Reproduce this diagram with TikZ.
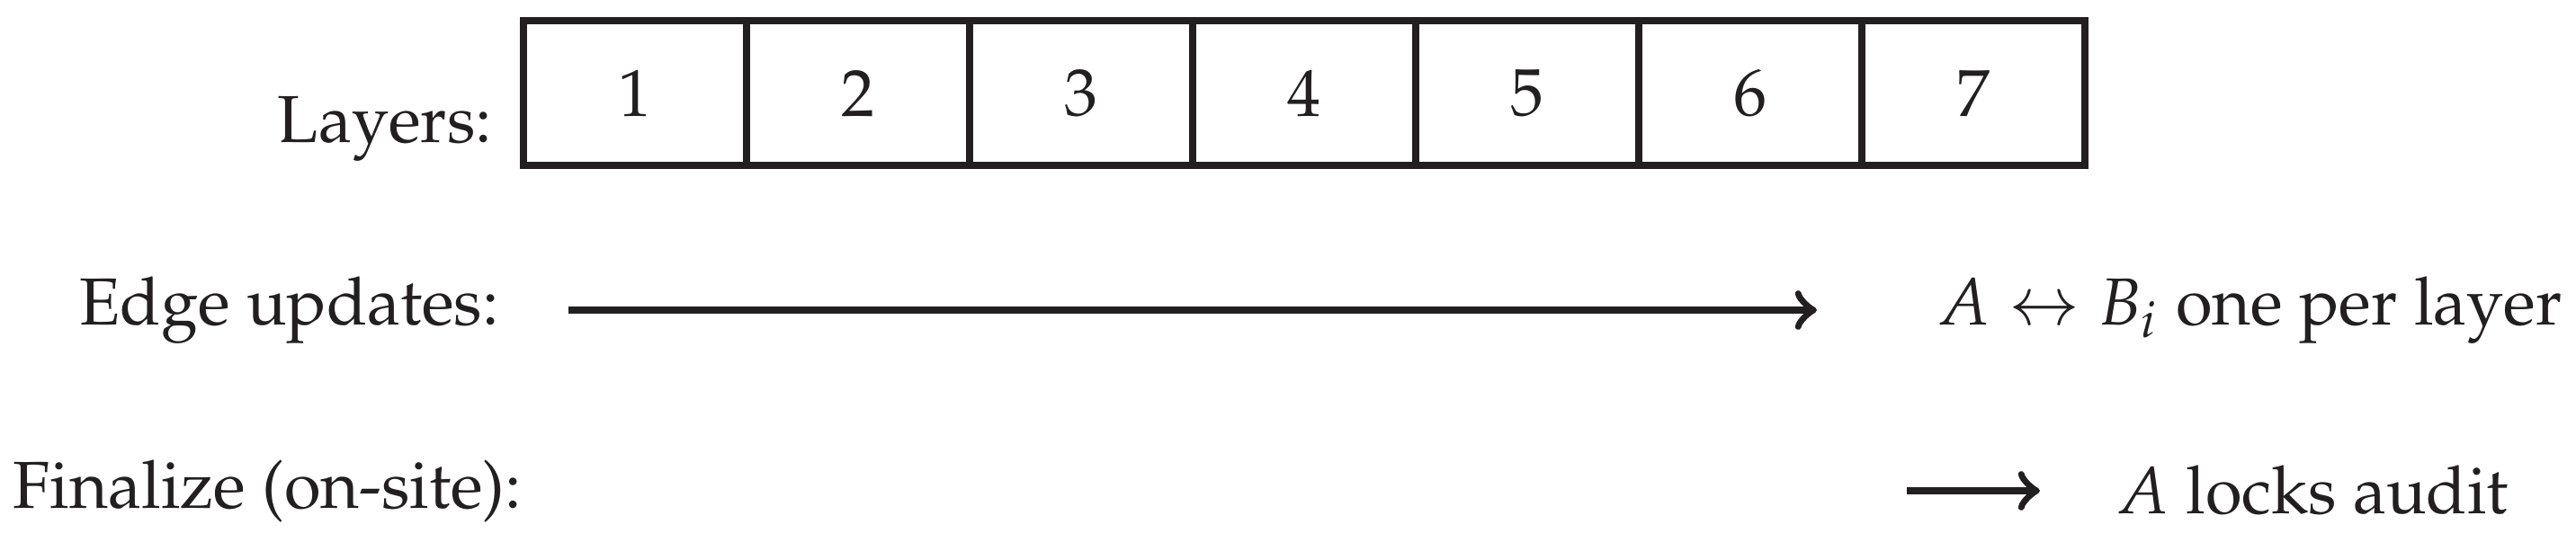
\documentclass[tikz,border=0pt]{standalone}
\usepackage[T1]{fontenc}
\usepackage{mathpazo}
\usepackage{amsmath}
\usepackage{tikz}
\usetikzlibrary{chains, positioning}
\definecolor{ink}{RGB}{35,31,32}

\begin{document}
\begin{tikzpicture}[start chain=1 going right, node distance=-1.15pt, color=ink,
		cell/.style={draw, line width=1.15pt, minimum width=1.178cm, minimum height=0.765cm, inner sep=0pt},
		flow/.style={->, line width=1.15pt}]
			\useasboundingbox (0,0) rectangle (13.604,-2.860);
			% layer boxes
			\node[cell, on chain=1] (l1) at (3.3535,-0.4916) {1};
			\node[cell, on chain=1] (l2) {2};
			\node[cell, on chain=1] (l3) {3};
			\node[cell, on chain=1] (l4) {4};
			\node[cell, on chain=1] (l5) {5};
			\node[cell, on chain=1] (l6) {6};
			\node[cell, on chain=1] (l7) {7};
			\node[anchor=east] (layers) at (2.7218,-0.6793) {Layers:};
			% edge updates
			\node[anchor=east] (edge) at (2.7598,-1.6388) {Edge updates:};
			\coordinate (e0) at (3.002,-1.6388);
			\coordinate (e1) at (9.595,-1.6388);
			\draw[flow] (e0) -- (e1);
			\node[anchor=west] (swap) at (10.108,-1.6388) {$A \leftrightarrow B_i$ one per layer};
			% finalize
			\node[anchor=east] (final) at (2.8785,-2.5935) {Finalize (on-site):};
			\coordinate (f0) at (10.07,-2.5935);
			\coordinate (f1) at (10.773,-2.5935);
			\draw[flow] (f0) -- (f1);
			\node[anchor=west] (lock) at (11.053,-2.5935) {$A$ locks audit};
		\end{tikzpicture}
\end{document}
